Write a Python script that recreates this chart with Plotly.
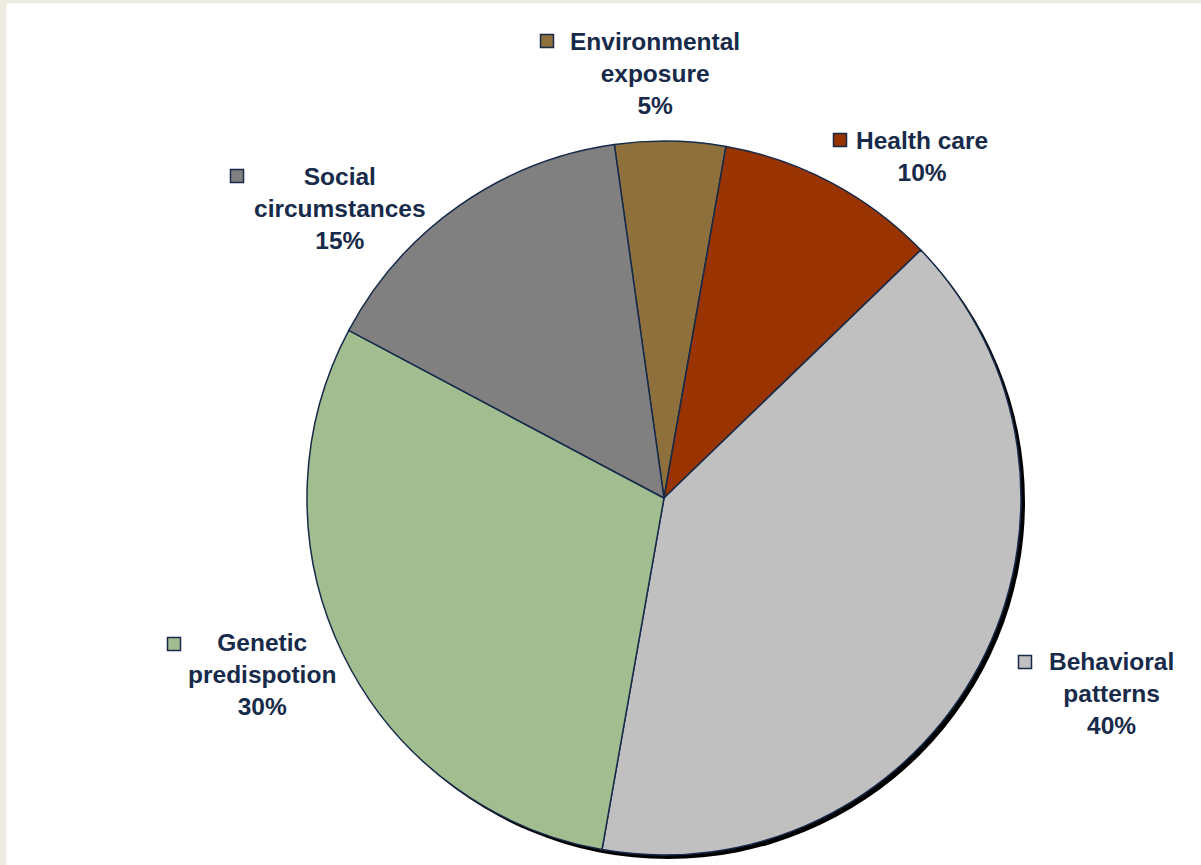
import plotly.graph_objects as go

# ---- data ----
categories = ["Environmental<br>exposure", "Health care", "Behavioral<br>patterns",
              "Genetic<br>predispotion", "Social<br>circumstances"]
values = [5, 10, 40, 30, 15]
colors = ["#8E703C", "#993300", "#C0C0C0", "#A2BD8F", "#808080"]

W, H = 1201, 865
NAVY = "#172A4A"

# pie geometry (pixels)
cx, cy, r = 664, 498, 357
def px_dom(cx, cy, r):
    return dict(x=[(cx - r) / W, (cx + r) / W], y=[1 - (cy + r) / H, 1 - (cy - r) / H])

fig = go.Figure()
# shadow
fig.add_trace(go.Pie(values=[1], marker=dict(colors=["#000000"], line=dict(width=0)),
                     textinfo="none", hoverinfo="skip", showlegend=False, sort=False,
                     domain=px_dom(cx + 4, cy + 4, r)))
fig.add_trace(go.Pie(labels=categories, values=values, sort=False, direction="clockwise",
                     rotation=-8, textinfo="none", showlegend=False,
                     marker=dict(colors=colors, line=dict(color=NAVY, width=1.5)),
                     domain=px_dom(cx, cy, r)))

# label positions (text block center) and legend-key square centers, pixels
text_pos = [(655, 73), (922, 156), (1111, 693), (262, 674), (340, 208)]
key_pos = [(547, 41), (840, 140), (1025, 662), (174, 644), (237, 176)]

annotations = []
shapes = []
for cat, v, col, (tx, ty), (kx, ky) in zip(categories, values, colors, text_pos, key_pos):
    annotations.append(dict(xref="paper", yref="paper", x=tx / W, y=1 - ty / H,
                            text=f"<b>{cat}<br>{v}%</b>", showarrow=False,
                            xanchor="center", yanchor="middle", align="center",
                            font=dict(family="Liberation Sans, Arial", size=24.5, color=NAVY)))
    s = 6.5
    shapes.append(dict(type="rect", xref="paper", yref="paper",
                       x0=(kx - s) / W, x1=(kx + s) / W, y0=1 - (ky + s) / H, y1=1 - (ky - s) / H,
                       fillcolor=col, line=dict(color=NAVY, width=1.5)))

# beige frame at top/left
shapes.append(dict(type="rect", xref="paper", yref="paper", x0=0, x1=1, y0=1 - 3.5 / H, y1=1,
                   fillcolor="#EDEBE0", line=dict(width=0), layer="below"))
shapes.append(dict(type="rect", xref="paper", yref="paper", x0=0, x1=6.5 / W, y0=0, y1=1,
                   fillcolor="#EDEBE0", line=dict(width=0), layer="below"))

fig.update_layout(width=W, height=H, margin=dict(l=0, r=0, t=0, b=0),
                  paper_bgcolor="white", plot_bgcolor="white",
                  annotations=annotations, shapes=shapes)
fig.write_html("out.html", config={"displayModeBar": False},
               post_script="document.body.style.margin='0';document.body.style.overflow='hidden';")
